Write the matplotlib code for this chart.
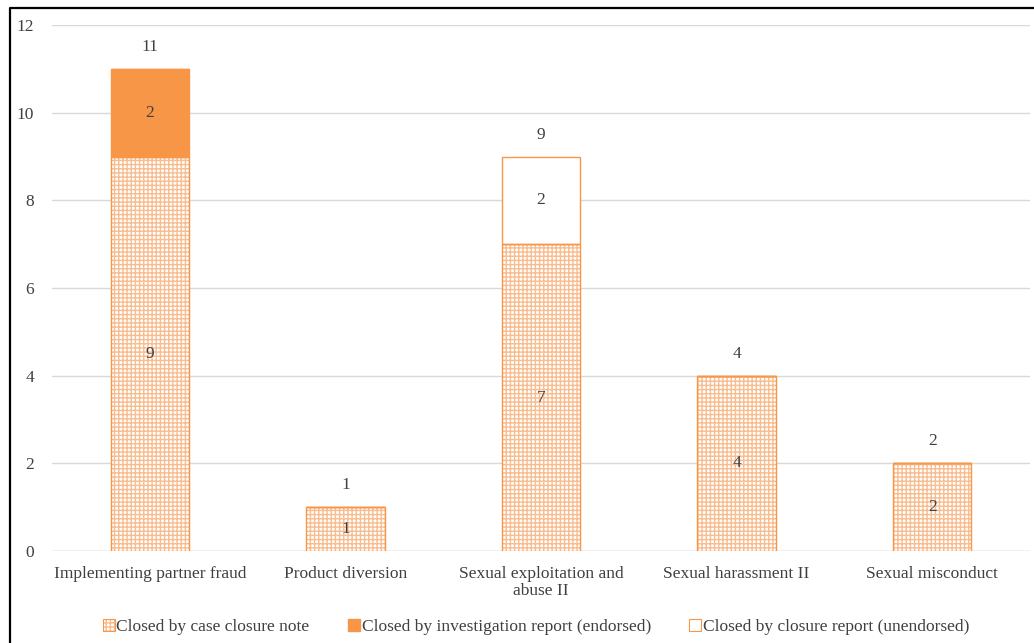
import matplotlib
matplotlib.use("Agg")
import matplotlib.pyplot as plt
from matplotlib.lines import Line2D
from matplotlib.patches import Patch
from matplotlib.legend_handler import HandlerTuple
import numpy as np

categories = ["Implementing partner fraud", "Product diversion",
              "Sexual exploitation and\nabuse II", "Sexual harassment II",
              "Sexual misconduct"]
case_closure_note = [9, 1, 7, 4, 2]
investigation_report = [2, 0, 0, 0, 0]
closure_report_unendorsed = [0, 0, 2, 0, 0]
series_names = ["Closed by case closure note",
                "Closed by investigation report (endorsed)",
                "Closed by closure report (unendorsed)"]
y_ticks = [0, 2, 4, 6, 8, 10, 12]

ORANGE = "#F79646"
HATCH_ORANGE = "#F9BC8E"
TEXT = "#404040"
FS = 12.5
plt.rcParams["font.family"] = ["Liberation Serif", "DejaVu Serif"]
plt.rcParams["hatch.linewidth"] = 1.0

fig = plt.figure(figsize=(10.34, 6.43), dpi=100)
ax = fig.add_axes([52 / 1034, 1 - 551 / 643, (1030 - 52) / 1034, (551 - 25) / 643])

x = np.arange(len(categories))
w = 0.40
a = np.array(case_closure_note)
b = np.array(investigation_report)
c = np.array(closure_report_unendorsed)

# Dotted-grid fill for case closure notes, then a crisp outline on top
ax.bar(x, a, w, facecolor="white", edgecolor=HATCH_ORANGE, hatch="++++",
       linewidth=0, zorder=3)
ax.bar(x, a, w, facecolor="none", edgecolor=ORANGE, linewidth=1.0, zorder=3.5)
ax.bar(x, b, w, bottom=a, facecolor=ORANGE, edgecolor=ORANGE,
       linewidth=1.0, zorder=3)
ax.bar(x, c, w, bottom=a + b, facecolor="white", edgecolor=ORANGE,
       linewidth=1.0, zorder=3)

# Segment labels
for xi, v in zip(x, a):
    if v:
        ax.text(xi, v / 2, str(v), ha="center", va="center", fontsize=FS, color=TEXT, zorder=4)
for xi, base, v in zip(x, a, b):
    if v:
        ax.text(xi, base + v / 2, str(v), ha="center", va="center", fontsize=FS, color=TEXT, zorder=4)
for xi, base, v in zip(x, a + b, c):
    if v:
        ax.text(xi, base + v / 2, str(v), ha="center", va="center", fontsize=FS, color=TEXT, zorder=4)
# Totals
totals = a + b + c
for xi, t in zip(x, totals):
    ax.text(xi, t + 0.5, str(t), ha="center", va="center", fontsize=FS, color=TEXT)

ax.set_xlim(-0.5, len(categories) - 0.5)
ax.set_ylim(0, 12)
ax.set_yticks(y_ticks)
ax.set_yticklabels([str(t) for t in y_ticks], fontsize=FS, color=TEXT)
ax.set_xticks(x)
ax.set_xticklabels(categories, fontsize=FS, color=TEXT, linespacing=1.05, va="top")
ax.tick_params(axis="both", length=0)
ax.tick_params(axis="y", pad=13)
ax.tick_params(axis="x", pad=11)
ax.grid(axis="y", color="#D9D9D9", linewidth=1.0, zorder=0)
for s in ax.spines.values():
    s.set_visible(False)
ax.axhline(0, color="#D9D9D9", linewidth=1.0, zorder=2)

hatch_handle = (Patch(facecolor="white", edgecolor=HATCH_ORANGE, hatch="++++", linewidth=0),
                Patch(facecolor="none", edgecolor=ORANGE, linewidth=0.8))
handles = [hatch_handle,
           Patch(facecolor=ORANGE, edgecolor=ORANGE),
           Patch(facecolor="white", edgecolor=ORANGE, linewidth=0.8)]
fig.legend(handles, series_names, loc="center", bbox_to_anchor=(536 / 1034, 1 - 627 / 643),
           ncol=3, frameon=False, fontsize=FS, handlelength=0.7, handleheight=0.7,
           handletextpad=0.1, columnspacing=2.2, labelcolor=TEXT,
           handler_map={tuple: HandlerTuple(ndivide=1, pad=0)})

# Frame line along the left and top edges
fig.add_artist(Line2D([9.5 / 1034, 9.5 / 1034, 1.0], [0.0, 1 - 7.5 / 643, 1 - 7.5 / 643],
                      transform=fig.transFigure, color="black", linewidth=1.6))

fig.savefig("out.png", dpi=100)
